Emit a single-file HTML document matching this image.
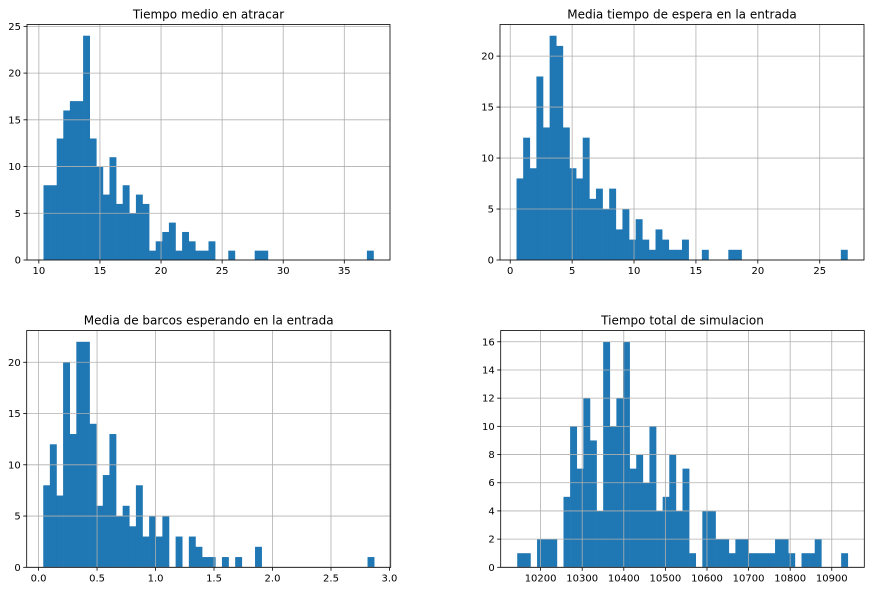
<!DOCTYPE html>
<html><head><meta charset="utf-8"><style>
body{margin:0;background:#fff;width:871px;height:591px;overflow:hidden}
svg{font-family:"DejaVu Sans","Liberation Sans",sans-serif}
</style></head><body>
<svg id="c" width="871" height="591"></svg>
<script>
const counts1=[8,8,13,16,17,17,24,13,10,7,11,6,8,5,7,6,1,2,3,4,1,3,2,1,1,2,0,0,1,0,0,0,1,1,0,0,0,0,0,0,0,0,0,0,0,0,0,0,0,1];
const range1=[10.38,37.39];
const xticks1=[10,15,20,25,30,35];
const yticks1=[0,5,10,15,20,25];
const counts2=[8,12,9,18,13,22,21,13,9,8,12,6,7,5,7,3,5,2,4,2,1,3,2,1,1,2,0,0,1,0,0,0,1,1,0,0,0,0,0,0,0,0,0,0,0,0,0,0,0,1];
const range2=[0.51,27.24];
const xticks2=[0,5,10,15,20,25];
const yticks2=[0,5,10,15,20];
const counts3=[8,12,7,20,13,22,22,14,6,9,13,5,6,4,8,3,5,3,5,0,3,0,3,2,1,1,0,1,0,1,0,0,2,0,0,0,0,0,0,0,0,0,0,0,0,0,0,0,0,1];
const range3=[0.04,2.869];
const xticks3=[0,0.5,1,1.5,2,2.5,3];
const xlabels3=["0.0","0.5","1.0","1.5","2.0","2.5","3.0"];
const yticks3=[0,5,10,15,20];
const counts4=[1,1,0,2,2,2,0,5,10,7,12,9,4,16,10,12,16,7,8,6,10,4,5,8,4,7,1,0,4,4,2,2,1,2,2,1,1,1,1,2,2,1,0,1,1,2,0,0,0,1];
const range4=[10143.8,10938.5];
const xticks4=[10200,10300,10400,10500,10600,10700,10800,10900];
const yticks4=[0,2,4,6,8,10,12,14,16];
const titles=["Tiempo medio en atracar","Media tiempo de espera en la entrada","Media de barcos esperando en la entrada","Tiempo total de simulacion"];
const NS="http://www.w3.org/2000/svg";
const svg=document.getElementById('c');
function mk(tag,at,parent){const e=document.createElementNS(NS,tag);for(const k in at)e.setAttribute(k,at[k]);(parent||svg).appendChild(e);return e;}
function panel(i,box,counts,range,xt,xl,yt){
  const [L,T,R,B]=box;
  const g=mk('g',{});
  
  
  const span=range[1]-range[0];
  const x0=range[0]-0.05*span,x1=range[1]+0.05*span;
  const ymax=Math.max(...counts)*1.05;
  const X=v=>L+(v-x0)/(x1-x0)*(R-L);
  const Y=v=>B-v/ymax*(B-T);
  const bw=span/counts.length;
  counts.forEach((c,k)=>{ if(c<=0)return;
    const a=X(range[0]+k*bw),b=X(range[0]+(k+1)*bw);
    const r=mk('rect',{x:a,y:Y(c),width:b-a+0.3,height:B-Y(c),fill:'#1f77b4'},g);
    
    
  });
  xt.forEach((v,k)=>{const x=X(v);
    mk('line',{x1:x,x2:x,y1:T,y2:B,stroke:'#b0b0b0','stroke-width':0.8},g);
    mk('line',{x1:x,x2:x,y1:B,y2:B+3.5,stroke:'#000','stroke-width':0.8},g);
    const t=mk('text',{x:x,y:B+14,'font-size':10,'text-anchor':'middle',fill:'#000'},g);
    t.textContent=xl?xl[k]:String(v);
    
    
  });
  yt.forEach(v=>{const y=Y(v);
    mk('line',{x1:L,x2:R,y1:y,y2:y,stroke:'#b0b0b0','stroke-width':0.8},g);
    mk('line',{x1:L-3.5,x2:L,y1:y,y2:y,stroke:'#000','stroke-width':0.8},g);
    const t=mk('text',{x:L-6,y:y+3.5,'font-size':10,'text-anchor':'end',fill:'#000'},g);
    t.textContent=String(v);
    
    
  });
  mk('rect',{x:L,y:T,width:R-L,height:B-T,fill:'none',stroke:'#000','stroke-width':0.8},g);
  const tt=mk('text',{x:(L+R)/2,y:T-6,'font-size':12,'text-anchor':'middle',fill:'#000'},g);
  tt.textContent=titles[i];
  
  
}
panel(0,[27,24.5,390,260],counts1,range1,xticks1,null,yticks1);
panel(1,[500,24.5,864,260],counts2,range2,xticks2,null,yticks2);
panel(2,[26.7,330.5,390.7,567.3],counts3,range3,xticks3,xlabels3,yticks3);
panel(3,[500.7,330.5,864.3,567.3],counts4,range4,xticks4,null,yticks4);
</script>
</body></html>
